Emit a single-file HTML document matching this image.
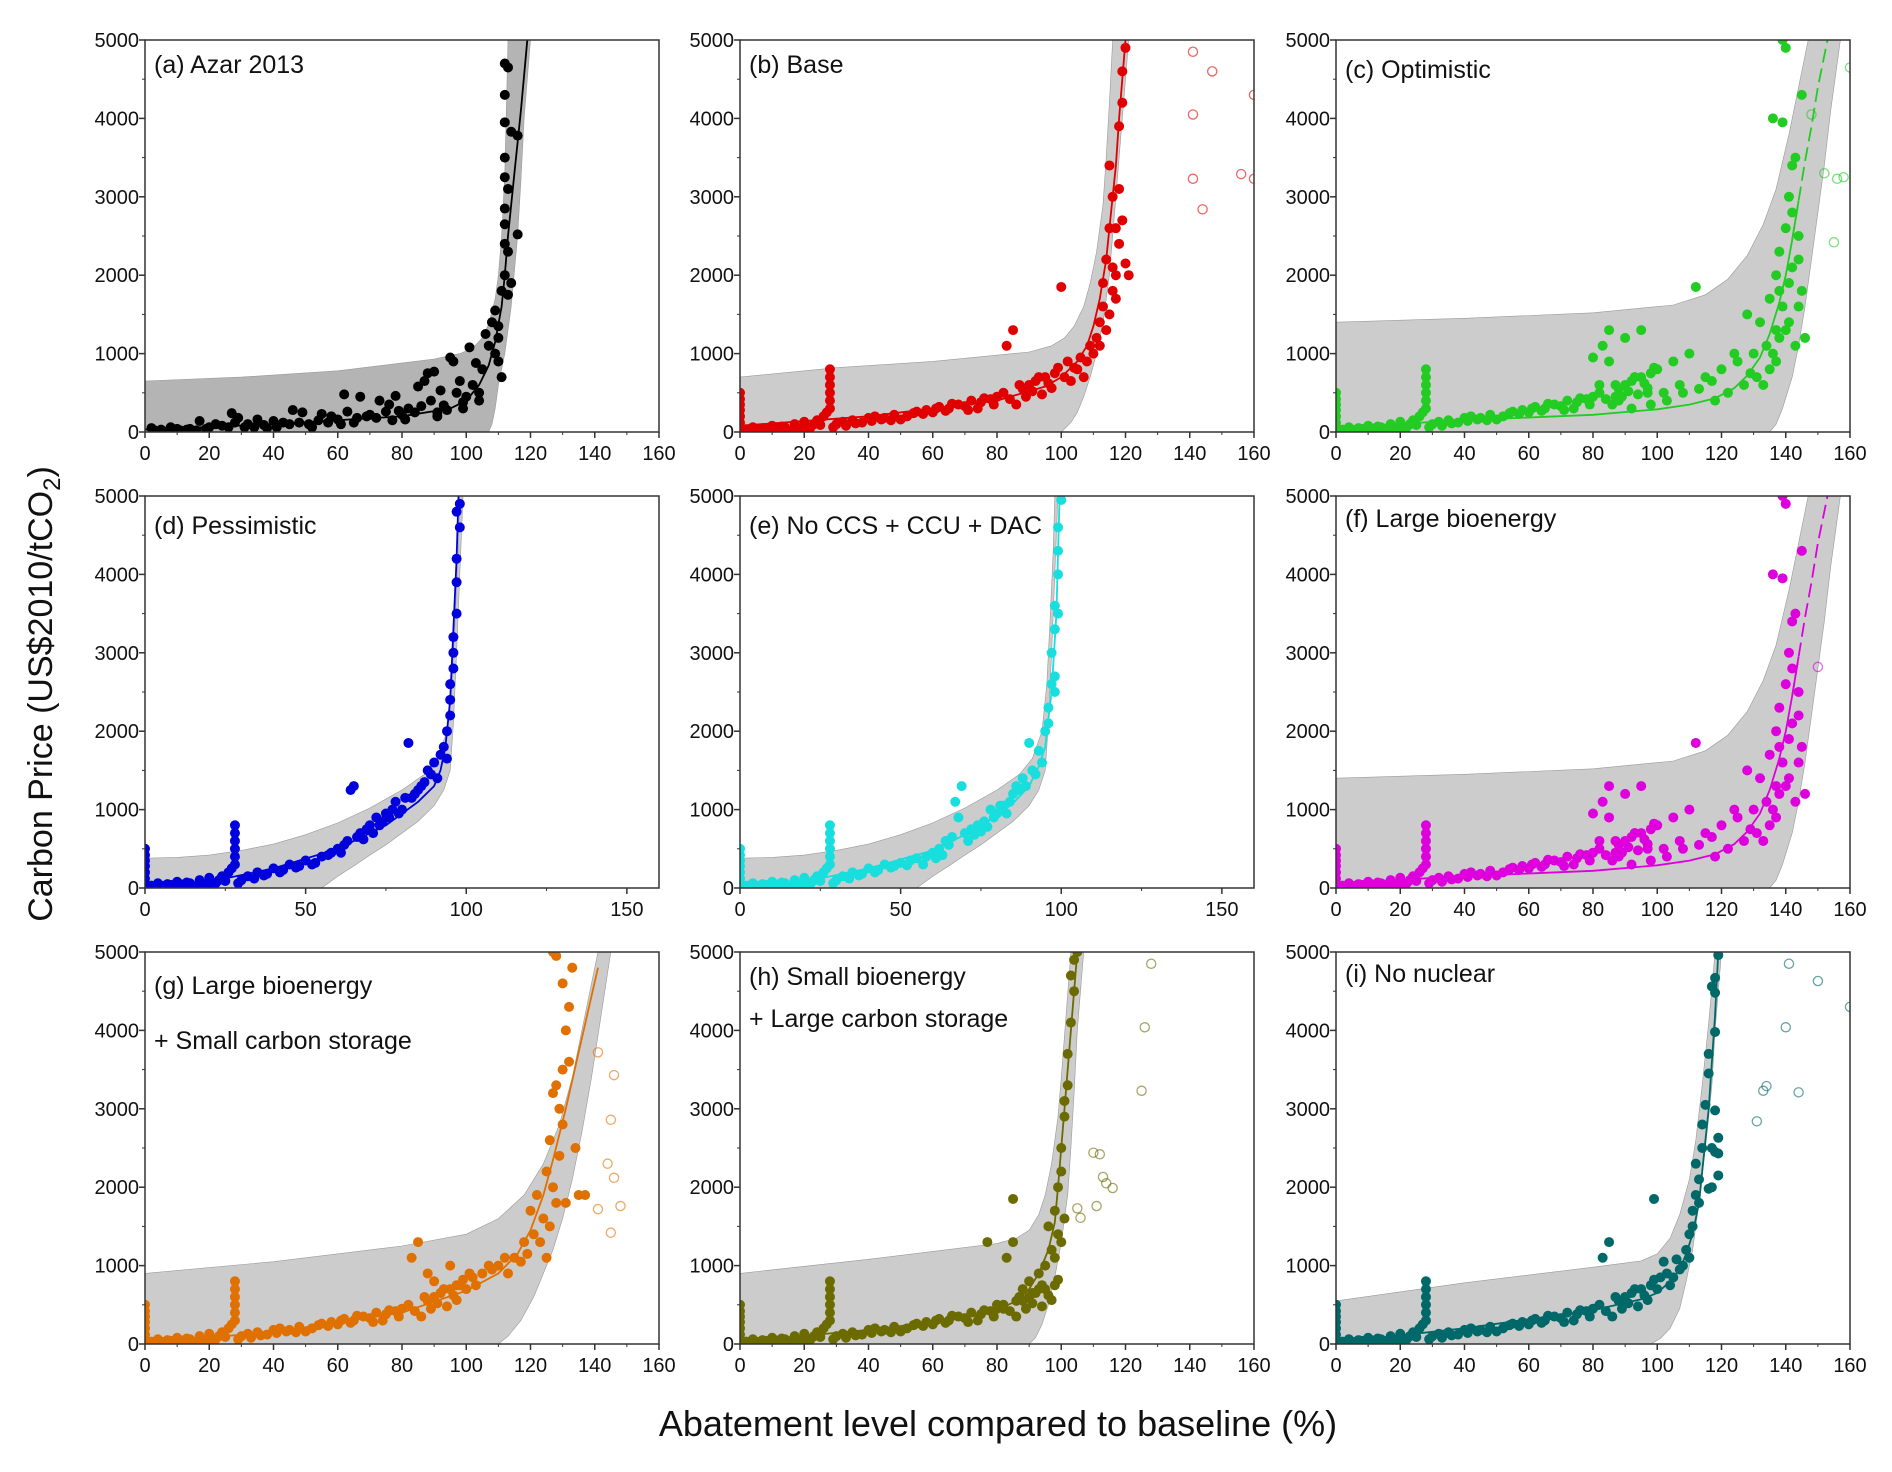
<!DOCTYPE html>
<html><head><meta charset="utf-8">
<style>
html,body{margin:0;padding:0;background:#fff;}
svg{display:block;font-family:"Liberation Sans",Arial,sans-serif;}
</style></head>
<body>
<svg id="fig" width="1892" height="1472" viewBox="0 0 1892 1472" xmlns="http://www.w3.org/2000/svg">
<text x="0" y="0" transform="translate(52,694) rotate(-90)" text-anchor="middle" font-size="34" fill="#111">Carbon Price (US$2010/tCO<tspan font-size="24" dy="8">2</tspan><tspan dy="-8">)</tspan></text>
<text x="998" y="1436" text-anchor="middle" font-size="36" fill="#111">Abatement level compared to baseline (%)</text>
</svg>
<script>
// ---------- data ----------
const panelTitles = [["(a) Azar 2013"],["(b) Base"],["(c)  Optimistic"],["(d) Pessimistic"],["(e) No CCS + CCU + DAC"],["(f) Large bioenergy"],["(g) Large bioenergy","+ Small carbon storage"],["(h) Small bioenergy","+ Large carbon storage"],["(i) No nuclear"]];
const panelColors = ["#000000","#e00000","#22cc22","#0000dd","#18dede","#dd00dd","#e07000","#6b6b00","#006868"];
const yTicks = [0,1000,2000,3000,4000,5000];
const xTicks20 = [0,20,40,60,80,100,120,140,160];
const xTicks50 = [0,50,100,150];

const lowStack = [[0,500],[0,420],[0,350],[0,280],[0,200],[0,120],[0,50],[28,800],[28,700],[28,600],[28,500],[28,400],[28,300]];
const lowCommon = [[1,20],[2,30],[3,10],[4,60],[5,30],[6,20],[7,50],[8,40],[9,10],[10,80],[11,50],[12,30],[13,70],[14,60],[16,20],[17,100],[18,50],[19,30],[20,130],[21,40],[22,60],[23,100],[24,150],[25,90],[26,200],[27,250],[29,60],[30,100],[32,130],[33,80],[35,150],[36,110],[38,120],[40,180],[41,140],[42,200],[44,160],[45,180],[47,150],[48,220],[50,160],[52,200],[54,240],[55,260],[57,230],[58,280],[60,250],[61,300],[62,320],[64,270],[65,300],[66,360],[68,350],[70,330],[71,280],[72,400],[74,300],[75,380],[76,430],[78,420],[79,350],[80,450],[82,500],[83,1100],[84,420],[85,1300],[86,350],[87,600],[88,550],[89,450],[90,600],[91,520],[92,650],[93,700],[94,480],[95,700],[96,620],[97,560],[98,750],[99,820]];

const aPts = [[2,50],[3,20],[5,30],[7,10],[8,60],[10,40],[11,20],[13,30],[14,40],[16,20],[17,140],[19,40],[20,60],[22,100],[24,80],[26,60],[27,240],[28,120],[29,180],[31,60],[32,100],[34,60],[35,160],[37,90],[38,50],[40,140],[41,60],[43,120],[45,100],[46,280],[48,120],[49,250],[51,100],[52,60],[54,150],[55,230],[57,120],[58,200],[60,160],[61,100],[62,480],[63,260],[65,120],[66,180],[67,450],[69,200],[70,220],[72,180],[73,400],[75,260],[76,350],[77,150],[78,460],[79,270],[80,220],[81,160],[82,300],[84,250],[85,580],[86,330],[87,650],[88,750],[89,400],[90,770],[91,250],[92,530],[93,340],[94,280],[95,950],[96,900],[97,500],[98,650],[99,380],[100,450],[101,1080],[102,600],[103,880],[104,500],[105,800],[106,1250],[107,1100],[108,1400],[109,1550],[110,1350],[110,900],[111,1800],[112,2000],[112,2400],[112,2650],[112,2850],[112,3250],[112,3500],[112,3950],[112,4300],[112,4700],[113,4650],[113,3100],[113,2300],[113,1750],[114,1900],[114,3830],[116,3780],[116,2520],[111,700],[104,400],[99,300],[91,200],[109,1000],[110,1200]];
const bPts = [[100,1850],[101,700],[102,900],[103,650],[104,820],[105,800],[106,950],[107,700],[108,900],[109,1100],[110,1000],[111,1200],[112,1400],[113,1600],[113,1900],[114,2200],[115,2600],[116,3000],[115,3400],[117,2000],[118,2400],[119,2700],[120,2150],[118,3900],[119,4200],[119,4600],[120,4900],[117,1700],[121,2000],[116,2100],[112,1100],[114,1300],[115,1500],[116,1800],[117,2600],[118,3100]];
const cfPts = [[80,950],[82,600],[85,900],[87,450],[88,400],[90,1200],[92,300],[93,700],[95,1300],[97,500],[98,350],[100,800],[102,500],[103,400],[105,900],[107,600],[108,500],[110,1000],[112,1850],[113,550],[115,700],[117,650],[118,400],[120,800],[122,500],[124,1000],[125,900],[127,600],[128,1500],[129,750],[130,1000],[131,700],[132,1400],[133,600],[134,1100],[135,1700],[135,800],[136,4000],[137,2000],[137,1300],[138,2300],[138,1200],[139,1600],[139,3950],[140,2600],[140,4900],[141,3000],[141,1900],[142,3400],[142,2100],[143,3500],[143,1100],[144,2200],[144,1600],[145,1800],[145,4300],[146,1200],[139,5000],[137,900],[141,1400],[136,1000],[138,1800],[140,1300],[142,2800],[144,2500]];
const dPts = [[30,100],[32,150],[34,120],[35,200],[37,160],[38,180],[40,250],[42,200],[43,230],[45,300],[47,260],[48,280],[50,350],[52,300],[53,320],[55,400],[57,420],[58,450],[60,500],[61,450],[62,550],[63,600],[64,1250],[65,1300],[66,650],[67,700],[68,620],[69,750],[70,800],[71,700],[72,900],[73,800],[74,850],[75,950],[76,900],[77,1000],[78,1100],[79,950],[80,1000],[81,1150],[82,1850],[83,1150],[84,1200],[85,1250],[86,1300],[87,1350],[88,1500],[89,1450],[90,1600],[91,1400],[92,1700],[93,1800],[94,2000],[95,2200],[95,2400],[95,2600],[96,2800],[96,3200],[97,3500],[97,3900],[97,4200],[98,4600],[98,4900],[94,1650],[96,3000],[97,4800]];
const ePts = [[30,100],[32,150],[34,120],[35,200],[37,160],[38,180],[40,250],[42,200],[43,230],[45,300],[47,260],[48,280],[50,320],[52,290],[53,350],[55,380],[57,300],[58,400],[60,450],[61,380],[62,500],[63,420],[64,600],[65,550],[66,650],[67,1100],[68,900],[69,1300],[70,700],[71,600],[72,750],[73,680],[74,800],[75,720],[76,850],[77,780],[78,1000],[79,900],[80,950],[81,1050],[82,1050],[83,950],[84,1100],[85,1200],[86,1300],[87,1250],[88,1400],[89,1300],[90,1850],[91,1500],[92,1450],[93,1750],[94,1600],[95,2000],[96,2300],[97,2600],[97,3000],[98,3300],[98,3600],[99,4000],[99,4300],[99,4600],[100,4950],[96,2100],[98,2700],[99,3500],[98,2500]];
const gPts = [[88,900],[90,800],[92,650],[95,1000],[97,750],[100,700],[101,900],[102,850],[103,750],[105,900],[107,1000],[108,950],[110,1000],[112,1100],[113,900],[115,1100],[117,1050],[118,1300],[119,1150],[120,1700],[121,1400],[122,1900],[123,1300],[124,1600],[125,2200],[125,1100],[126,2600],[127,3200],[127,2000],[127,5000],[128,3300],[128,4950],[129,3000],[129,2400],[130,3500],[130,4600],[131,4000],[131,1800],[132,4300],[133,4800],[134,2500],[135,1900],[137,1900],[128,1800],[126,1500],[130,2800],[132,3600]];
const hPts = [[77,1300],[80,500],[82,450],[85,1850],[86,550],[87,600],[88,700],[90,800],[91,650],[93,900],[94,750],[95,1000],[96,1500],[97,1200],[98,1700],[99,2000],[100,2500],[100,2200],[101,2900],[101,1600],[102,3300],[102,3700],[103,4100],[104,4500],[104,4900],[105,5000],[99,1400],[98,1100],[100,1300],[101,3100],[103,4700]];
const iPts = [[99,1850],[100,700],[101,850],[102,1050],[103,900],[104,750],[105,850],[106,1080],[107,950],[108,1000],[109,1200],[110,1400],[110,1100],[111,1700],[112,1900],[112,2300],[113,2100],[114,2500],[114,2800],[115,3050],[116,3450],[116,3700],[117,2000],[117,2500],[118,2450],[118,2980],[118,3980],[118,4480],[117,4560],[118,4670],[119,2630],[119,2150],[119,2430],[119,4960],[116,1980],[111,1500],[113,1800]];

const hollowB = [[141,4850],[147,4600],[141,4050],[141,3230],[144,2840],[156,3290],[160,3230],[160,4300]];
const hollowC = [[148,4050],[152,3300],[156,3230],[158,3250],[155,2420],[160,4650]];
const hollowF = [[150,2820]];
const hollowG = [[141,3720],[146,3430],[145,2860],[144,2300],[146,2120],[141,1720],[148,1760],[145,1420]];
const hollowH = [[110,2440],[112,2420],[113,2130],[114,2050],[116,1990],[105,1730],[106,1610],[111,1760],[125,3230],[126,4040],[128,4850]];
const hollowI = [[141,4850],[150,4630],[140,4040],[134,3290],[133,3230],[144,3210],[131,2840],[160,4300]];

const bandUpperA = [[0,650],[30,700],[60,780],[90,930],[98,1000],[102,1070],[105,1200],[107,1380],[109,1700],[110,2000],[111,2500],[112,3300],[113,5000]];
const bandLowerA = [[120,5000],[118,4000],[117,3200],[116,2500],[114,1600],[112,1000],[110,600],[109,300],[108,100],[107,0]];
const bandUpperB = [[0,700],[30,820],[60,900],[90,1020],[97,1100],[101,1200],[104,1350],[107,1600],[109,1900],[111,2300],[113,2900],[114,3500],[115,4200],[116,5000]];
const bandLowerB = [[121,5000],[119,4000],[117,3000],[115,2000],[113,1400],[111,1000],[109,700],[107,450],[105,250],[103,120],[100,0]];
const bandUpperC = [[0,1400],[40,1450],[80,1520],[105,1620],[115,1750],[122,1950],[128,2250],[133,2650],[137,3100],[141,3800],[144,4400],[147,5000]];
const bandLowerC = [[157,5000],[154,4100],[152,3400],[150,2800],[148,2200],[146,1600],[144,1100],[142,700],[139,300],[137,100],[135,0]];
const bandUpperD = [[0,380],[10,390],[20,420],[30,480],[40,560],[50,680],[60,830],[70,1020],[80,1250],[87,1450],[91,1650],[94,2000],[95.5,2600],[96.5,3400],[97.5,4300],[98,5000]];
const bandLowerD = [[99,5000],[98,4000],[97,3000],[96,2100],[95,1500],[93,1250],[90,1050],[85,850],[80,700],[75,550],[70,420],[65,280],[60,150],[55,0]];
const bandUpperG = [[0,900],[40,1050],[80,1250],[100,1400],[110,1600],[118,1900],[124,2300],[129,2800],[133,3400],[136,4000],[139,4600],[141,5000]];
const bandLowerG = [[145,5000],[142,4200],[139,3400],[136,2700],[133,2100],[130,1600],[127,1200],[124,900],[121,600],[117,300],[113,100],[110,0]];
const bandUpperH = [[0,900],[40,1080],[80,1280],[86,1350],[90,1450],[93,1650],[95,1900],[97,2300],[99,2900],[100,3400],[101.5,4200],[103,5000]];
const bandLowerH = [[107,5000],[105,4000],[104,3200],[103,2500],[102,1900],[100,1300],[98,850],[96,500],[94,250],[92,80],[90,0]];
const bandUpperI = [[0,550],[40,780],[80,980],[95,1060],[100,1150],[104,1350],[107,1650],[110,2100],[112,2600],[114,3300],[116,4100],[118,5000]];
const bandLowerI = [[120,5000],[118,4000],[117,3300],[115,2500],[113,1800],[111,1200],[109,800],[107,450],[104,200],[101,70],[98,0]];

const fitA = [[0,30],[40,100],[80,200],[95,300],[100,400],[104,600],[107,850],[109,1150],[111,1600],[112,2000],[113,2500],[115,3300],[117,4100],[119,5000]];
const fitB = [[0,80],[40,200],[80,400],[95,580],[100,700],[105,900],[108,1100],[110,1350],[112,1700],[114,2200],[115,2600],[117,3400],[118,4000],[120,5000]];
const fitC = [[0,60],[40,150],[80,220],[100,290],[110,350],[118,430],[124,560],[128,720],[132,950],[135,1250],[138,1650],[140,2000],[142,2450],[144,2950],[146,3450],[148,3900],[150,4400],[153,5000]];
const fitD = [[0,20],[20,80],[40,250],[60,500],[75,800],[85,1100],[90,1300],[92,1500],[93.5,1800],[95,2400],[96,3300],[97,4200],[97.6,5000]];
const fitE = [[0,20],[20,80],[40,250],[60,480],[75,780],[85,1080],[90,1300],[93,1550],[95,1800],[97,2500],[98.5,3500],[99.5,5000]];
const fitG = [[0,20],[40,150],[80,400],[100,680],[110,900],[116,1150],[120,1450],[124,1900],[127,2350],[131,3000],[136,3900],[141,4800]];
const fitH = [[0,30],[40,180],[70,330],[80,430],[86,550],[90,700],[93,900],[96,1200],[98,1550],[99,2000],[101,3000],[103,4000],[105,5000]];
const fitI = [[0,20],[40,200],[80,430],[95,570],[100,650],[104,800],[107,950],[109,1150],[111,1400],[113,1800],[114,2200],[116,3000],[118,4200],[119,5000]];

const panels = [
 {pts:aPts, hollow:[], bu:bandUpperA, bl:bandLowerA, fit:fitA, dashFrom:999, xt:xTicks20, band:"#b4b4b4"},
 {pts:lowStack.concat(lowCommon, bPts), hollow:hollowB, bu:bandUpperB, bl:bandLowerB, fit:fitB, dashFrom:999, xt:xTicks20, band:"#cccccc"},
 {pts:lowStack.concat(lowCommon, cfPts), hollow:hollowC, bu:bandUpperC, bl:bandLowerC, fit:fitC, dashFrom:145, xt:xTicks20, band:"#cccccc"},
 {pts:lowStack.concat(lowCommon.filter(p=>p[0]<30), dPts), hollow:[], bu:bandUpperD, bl:bandLowerD, fit:fitD, dashFrom:999, xt:xTicks50, band:"#cccccc"},
 {pts:lowStack.concat(lowCommon.filter(p=>p[0]<30), ePts), hollow:[], bu:bandUpperD, bl:bandLowerD, fit:fitE, dashFrom:999, xt:xTicks50, band:"#cccccc"},
 {pts:lowStack.concat(lowCommon, cfPts), hollow:hollowF, bu:bandUpperC, bl:bandLowerC, fit:fitC, dashFrom:145, xt:xTicks20, band:"#cccccc"},
 {pts:lowStack.concat(lowCommon, gPts), hollow:hollowG, bu:bandUpperG, bl:bandLowerG, fit:fitG, dashFrom:999, xt:xTicks20, band:"#cccccc"},
 {pts:lowStack.concat(lowCommon, hPts), hollow:hollowH, bu:bandUpperH, bl:bandLowerH, fit:fitH, dashFrom:999, xt:xTicks20, band:"#cccccc"},
 {pts:lowStack.concat(lowCommon, iPts), hollow:hollowI, bu:bandUpperI, bl:bandLowerI, fit:fitI, dashFrom:999, xt:xTicks20, band:"#cccccc"}
];

// ---------- layout ----------
const colLeft = [145, 740, 1336];
const rowTop = [40, 496, 952];
const PW = 514, PH = 392;
const titleBaselines = [[33],[33],[38],[38],[38],[31],[42,97],[33,75],[30]];
const NS = "http://www.w3.org/2000/svg";
const svg = document.getElementById("fig");
function mk(tag, attrs, parent){const e=document.createElementNS(NS,tag);for(const k in attrs)e.setAttribute(k,attrs[k]);(parent||svg).appendChild(e);return e;}
const defs = mk("defs",{});

panels.forEach((P,i)=>{
  const L = colLeft[i%3], T = rowTop[Math.floor(i/3)];
  const xS = v => L + v/160*PW;
  const yS = v => T + PH - v/5000*PH;
  const g = mk("g",{});
  
  
  const cp = mk("clipPath",{id:"clip"+i}, defs);
  mk("rect",{x:L,y:T,width:PW,height:PH}, cp);
  const bandPts = P.bu.concat(P.bl).map(p=>xS(p[0]).toFixed(1)+","+yS(p[1]).toFixed(1)).join(" ") + " " + xS(0)+","+yS(0);
  const band = mk("polygon",{points:bandPts, fill:P.band, stroke:"#9a9a9a","stroke-width":0.6,"clip-path":"url(#clip"+i+")"}, g);
  
  
  const col = panelColors[i];
  P.hollow.forEach(p=>{
    const c = mk("circle",{cx:xS(p[0]),cy:yS(p[1]),r:4.6,fill:"none",stroke:col,"stroke-width":1.3,opacity:0.6,"clip-path":"url(#clip"+i+")"}, g);
    
    
  });
  P.pts.forEach(p=>{
    const c = mk("circle",{cx:xS(p[0]),cy:yS(p[1]),r:5,fill:col,"clip-path":"url(#clip"+i+")"}, g);
    
    
  });
  const solid = P.fit.filter(p=>p[0]<=P.dashFrom);
  const dashed = P.fit.filter(p=>p[0]>=P.dashFrom - 3);
  const fl = mk("polyline",{points:solid.map(p=>xS(p[0]).toFixed(1)+","+yS(p[1]).toFixed(1)).join(" "),fill:"none",stroke:col,"stroke-width":1.8,"clip-path":"url(#clip"+i+")"}, g);
  
  
  if (P.dashFrom < 999){
    const dl = mk("polyline",{points:dashed.map(p=>xS(p[0]).toFixed(1)+","+yS(p[1]).toFixed(1)).join(" "),fill:"none",stroke:col,"stroke-width":1.8,"stroke-dasharray":"14,6","clip-path":"url(#clip"+i+")"}, g);
    
    
  }
  const fr = mk("rect",{x:L,y:T,width:PW,height:PH,fill:"none",stroke:"#333","stroke-width":1.5}, g);
  
  
  yTicks.forEach(v=>{
    mk("line",{x1:L,x2:L-6,y1:yS(v),y2:yS(v),stroke:"#333","stroke-width":1.5}, g);
    const t = mk("text",{x:L-6,y:yS(v)+7,"text-anchor":"end","font-size":20,fill:"#111"}, g);
    t.textContent = v;
    
    
  });
  for(let v=500; v<5000; v+=1000) mk("line",{x1:L,x2:L-3,y1:yS(v),y2:yS(v),stroke:"#333","stroke-width":1}, g);
  const step = P.xt[1]-P.xt[0];
  P.xt.forEach(v=>{
    mk("line",{x1:xS(v),x2:xS(v),y1:T+PH,y2:T+PH+6,stroke:"#333","stroke-width":1.5}, g);
    const t = mk("text",{x:xS(v),y:T+PH+28,"text-anchor":"middle","font-size":20,fill:"#111"}, g);
    t.textContent = v;
    
    
  });
  for(let v=step/2; v<160; v+=step) mk("line",{x1:xS(v),x2:xS(v),y1:T+PH,y2:T+PH+3,stroke:"#333","stroke-width":1}, g);
  panelTitles[i].forEach((s,k)=>{
    const t = mk("text",{x:L+9,y:T+titleBaselines[i][k],"font-size":25,fill:"#111"}, g);
    t.textContent = s;
    
    
  });
});
</script>
</body></html>
